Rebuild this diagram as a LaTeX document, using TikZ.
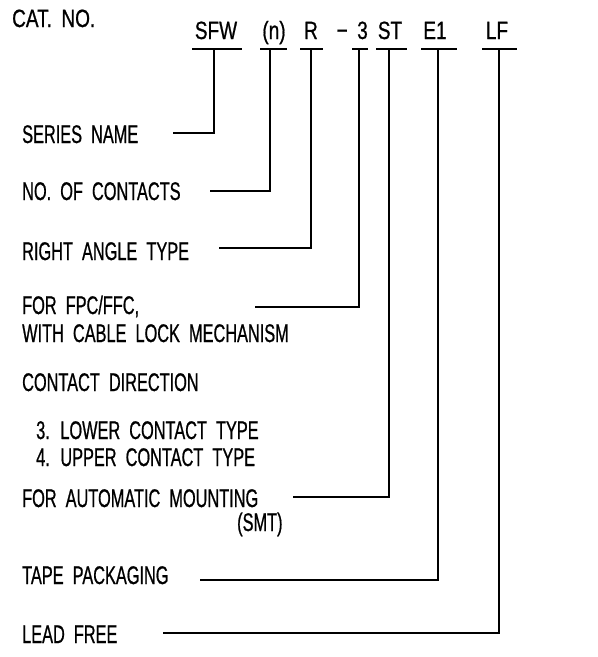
\documentclass[tikz,border=0pt]{standalone}
\usepackage{fontspec}
\setmainfont{Liberation Sans}[FakeStretch=0.64,WordSpace=2.0,FakeBold=0.7]
\newfontfamily\codefont{Liberation Sans}[FakeStretch=0.76,WordSpace=1.8,FakeBold=0.7]
\begin{document}
\begin{tikzpicture}[x=1pt,y=-1pt,
  txt/.style={anchor=base west,inner sep=0pt,font=\fontsize{25.5}{30}\selectfont},
  code/.style={anchor=base,inner sep=0pt,font=\codefont\fontsize{25}{28}\selectfont},
  ln/.style={line width=1.1pt,black}]
\useasboundingbox (0,0) rectangle (598,657);
% title
\node[code,anchor=base west] (cat) at (12,27) {CAT. NO.};
% codes
\node[code] (c1) at (216,39) {SFW};
\node[code] (c2) at (274,39) {(n)};
\node[code] (c3) at (311,39) {R};
\node[code,anchor=base east] (c4) at (368,39) {− 3};
\node[code] (c5) at (390,39) {ST};
\node[code] (c6) at (435,39) {E1};
\node[code] (c7) at (497,39) {LF};
% underlines
\coordinate (u1a) at (192,49); \coordinate (u1b) at (242,49); \coordinate (u1) at (214,49);
\coordinate (u2a) at (260,49); \coordinate (u2b) at (287,49); \coordinate (u2) at (270,49);
\coordinate (u3a) at (300,49); \coordinate (u3b) at (323,49); \coordinate (u3) at (311,49);
\coordinate (u4a) at (352,49); \coordinate (u4b) at (368,49); \coordinate (u4) at (359,49);
\coordinate (u5a) at (376,49); \coordinate (u5b) at (407,49); \coordinate (u5) at (389,49);
\coordinate (u6a) at (421,49); \coordinate (u6b) at (457,49); \coordinate (u6) at (438,49);
\coordinate (u7a) at (482,49); \coordinate (u7b) at (517,49); \coordinate (u7) at (499,49);
\foreach \i in {1,...,7} {\draw[ln] (u\i a) -- (u\i b);}
% descriptions
\node[txt] (d1) at (22,143) {SERIES NAME};
\node[txt] (d2) at (22,200) {NO. OF CONTACTS};
\node[txt] (d3) at (22,260) {RIGHT ANGLE TYPE};
\node[txt] (d4) at (22,314) {FOR FPC/FFC,};
\node[txt] (d4b) at (22,342) {WITH CABLE LOCK MECHANISM};
\node[txt] (d5) at (22,391) {CONTACT DIRECTION};
\node[txt] (d5a) at (36,439) {3. LOWER CONTACT TYPE};
\node[txt] (d5b) at (36,466) {4. UPPER CONTACT TYPE};
\node[txt] (d6) at (22,507) {FOR AUTOMATIC MOUNTING};
\node[txt] (d6b) at (237,531) {(SMT)};
\node[txt] (d7) at (22,584) {TAPE PACKAGING};
\node[txt] (d8) at (22,643) {LEAD FREE};
% leader starts
\coordinate (s1) at (173,133);
\coordinate (s2) at (210,191);
\coordinate (s3) at (219,248);
\coordinate (s4) at (255,307);
\coordinate (s5) at (293,497);
\coordinate (s6) at (200,580);
\coordinate (s7) at (163,633);
% connectors
\draw[ln] (s1) -| (u1);
\draw[ln] (s2) -| (u2);
\draw[ln] (s3) -| (u3);
\draw[ln] (s4) -| (u4);
\draw[ln] (s5) -| (u5);
\draw[ln] (s6) -| (u6);
\draw[ln] (s7) -| (u7);
\end{tikzpicture}
\end{document}
